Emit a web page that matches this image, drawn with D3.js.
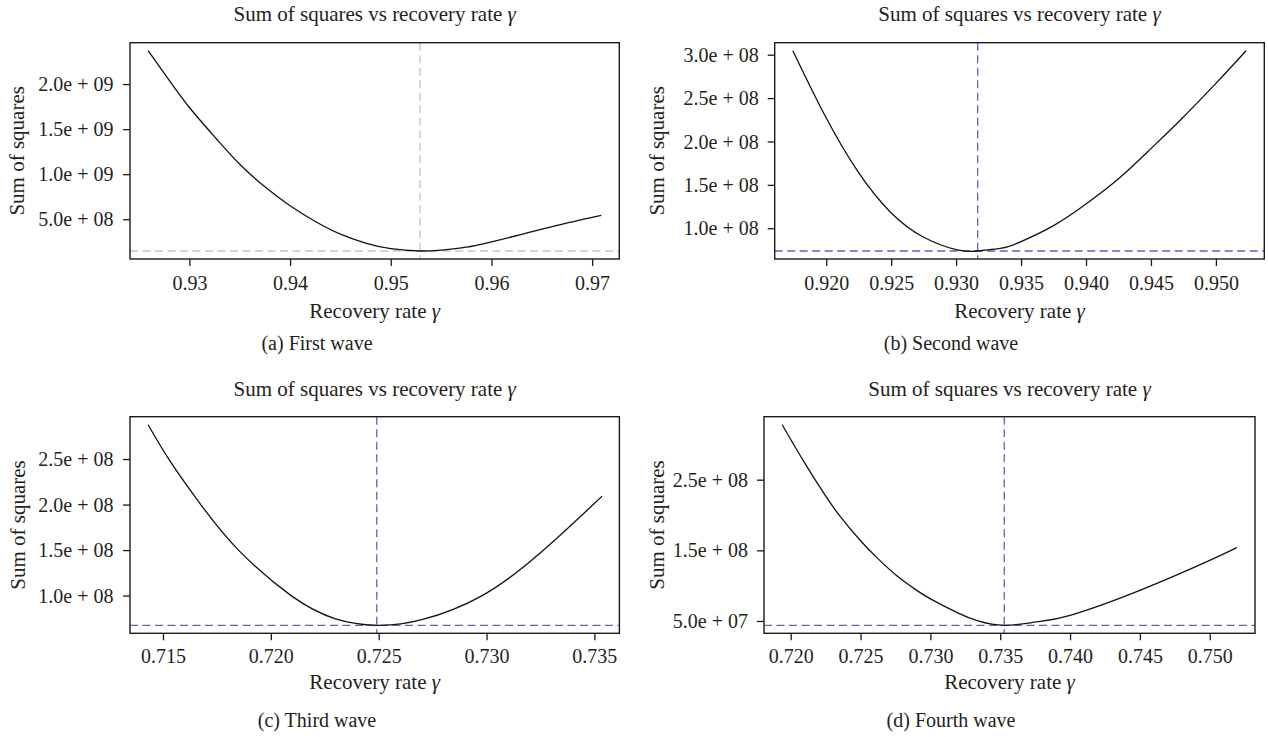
<!DOCTYPE html>
<html>
<head>
<meta charset="utf-8">
<script src="https://cdn.jsdelivr.net/npm/d3@7"></script>
<style>
  html, body { margin: 0; padding: 0; background: #ffffff; }
  svg { display: block; }
  text { font-family: "Liberation Serif", "Times New Roman", serif; fill: #231f20; }
</style>
</head>
<body>
<svg id="chart" width="1268" height="737"></svg>
<script>
// ---- Sum of squares profiles over the recovery rate, one per wave ----
const gammaFirst = [0.9259, 0.9280, 0.9300, 0.9327, 0.9350, 0.9375, 0.9400, 0.9426, 0.9450, 0.9475, 0.9500, 0.9529, 0.9550, 0.9575, 0.9600, 0.9631, 0.9664, 0.9709];
const ssFirst    = [2.370e9, 2.040e9, 1.740e9, 1.390e9, 1.110e9, 0.860e9, 0.650e9, 0.470e9, 0.335e9, 0.236e9, 0.174e9, 0.148e9, 0.158e9, 0.190e9, 0.250e9, 0.335e9, 0.430e9, 0.544e9];
const bestFirst  = [0.9529, 1.48e8];

const gammaSecond = [0.91743, 0.91982, 0.92238, 0.92495, 0.92751, 0.93008, 0.93166, 0.93350, 0.93500, 0.93750, 0.94000, 0.94250, 0.94500, 0.94725, 0.95000, 0.95233];
const ssSecond    = [3.046e8, 2.323e8, 1.667e8, 1.185e8, 0.896e8, 0.750e8, 0.738e8, 0.770e8, 0.846e8, 1.030e8, 1.280e8, 1.570e8, 1.918e8, 2.245e8, 2.669e8, 3.046e8];
const bestSecond  = [0.93166, 7.38e7];

const gammaThird = [0.71431, 0.71532, 0.71675, 0.71850, 0.72094, 0.72300, 0.72491, 0.72700, 0.72980, 0.73250, 0.73490, 0.73532];
const ssThird    = [2.877e8, 2.480e8, 2.000e8, 1.500e8, 1.000e8, 0.745e8, 0.674e8, 0.735e8, 1.000e8, 1.470e8, 1.990e8, 2.084e8];
const bestThird  = [0.72491, 6.74e7];

const gammaFourth = [0.71939, 0.72093, 0.72238, 0.72350, 0.72500, 0.72615, 0.72760, 0.72905, 0.73004, 0.73196, 0.73341, 0.73529, 0.73760, 0.74000, 0.74500, 0.75000, 0.75194];
const ssFourth    = [3.278e8, 2.760e8, 2.305e8, 1.990e8, 1.635e8, 1.400e8, 1.140e8, 0.930e8, 0.810e8, 0.615e8, 0.500e8, 0.439e8, 0.486e8, 0.580e8, 0.934e8, 1.358e8, 1.538e8];
const bestFourth  = [0.73529, 4.39e7];

// ---- Tick values ----
const xTicksFirst  = [0.93, 0.94, 0.95, 0.96, 0.97];
const yTicksFirst  = [5e8, 1.0e9, 1.5e9, 2.0e9];
const xTicksSecond = [0.920, 0.925, 0.930, 0.935, 0.940, 0.945, 0.950];
const yTicksSecond = [1.0e8, 1.5e8, 2.0e8, 2.5e8, 3.0e8];
const xTicksThird  = [0.715, 0.720, 0.725, 0.730, 0.735];
const yTicksThird  = [1.0e8, 1.5e8, 2.0e8, 2.5e8];
const xTicksFourth = [0.720, 0.725, 0.730, 0.735, 0.740, 0.745, 0.750];
const yTicksFourth = [5e7, 1.5e8, 2.5e8];

const captions = ["(a) First wave", "(b) Second wave", "(c) Third wave", "(d) Fourth wave"];

// ---- Panel layout (plot frames in pixels) ----
const panels = [
  { gamma: gammaFirst,  ss: ssFirst,  best: bestFirst,  xt: xTicksFirst,  yt: yTicksFirst,  xDec: 2,
    left: 130,   right: 619.3,  top: 42.7,  bottom: 259,   guide: "#c4c4c4",
    titleY: 21, tickY: 290, labelY: 318, capY: 350, capX: 317, ylabX: 24, ylabPad: 9.5 },
  { gamma: gammaSecond, ss: ssSecond, best: bestSecond, xt: xTicksSecond, yt: yTicksSecond, xDec: 3,
    left: 774.7, right: 1264.3, top: 42.7,  bottom: 259,   guide: "#5d63c4",
    titleY: 21, tickY: 290, labelY: 318, capY: 350, capX: 951, ylabX: 664, ylabPad: 9 },
  { gamma: gammaThird,  ss: ssThird,  best: bestThird,  xt: xTicksThird,  yt: yTicksThird,  xDec: 3,
    left: 130,   right: 619.4,  top: 416.7, bottom: 633.3, guide: "#5d63c4",
    titleY: 396, tickY: 663, labelY: 689, capY: 727, capX: 317, ylabX: 25, ylabPad: 9.5 },
  { gamma: gammaFourth, ss: ssFourth, best: bestFourth, xt: xTicksFourth, yt: yTicksFourth, xDec: 3,
    left: 764,   right: 1255,   top: 416.7, bottom: 633.3, guide: "#5d63c4",
    titleY: 396, tickY: 663, labelY: 689, capY: 727, capX: 951, ylabX: 664, ylabPad: 9 }
];

// "2.0e + 09" style labels
function sciLabel(v) {
  const e = Math.floor(Math.log10(v) + 1e-9);
  const m = v / Math.pow(10, e);
  return m.toFixed(1) + "e + " + String(e).padStart(2, "0");
}

// R-style axis range: data extent widened by 4% on each side
function padded(vals) {
  const [lo, hi] = d3.extent(vals);
  const p = (hi - lo) * 0.04;
  return [lo - p, hi + p];
}

const svg = d3.select("#chart");

panels.forEach((P, i) => {
  const x = d3.scaleLinear().domain(padded(P.gamma)).range([P.left, P.right]);
  const y = d3.scaleLinear().domain(padded(P.ss)).range([P.bottom, P.top]);
  const g = svg.append("g");
  const cx = (P.left + P.right) / 2;

  // guide lines through the minimum
  g.append("line")
    .attr("x1", P.left).attr("x2", P.right)
    .attr("y1", y(P.best[1])).attr("y2", y(P.best[1]))
    .attr("stroke", P.guide).attr("stroke-width", 1.3).attr("stroke-dasharray", "8,4.5");
  g.append("line")
    .attr("x1", x(P.best[0])).attr("x2", x(P.best[0]))
    .attr("y1", P.top).attr("y2", P.bottom)
    .attr("stroke", P.guide).attr("stroke-width", 1.3).attr("stroke-dasharray", "8,4.5");

  // profile curve
  const pts = P.gamma.map((gv, k) => [gv, P.ss[k]]);
  g.append("path")
    .datum(pts)
    .attr("fill", "none")
    .attr("stroke", "#111")
    .attr("stroke-width", 1.3)
    .attr("d", d3.line().x(d => x(d[0])).y(d => y(d[1])).curve(d3.curveNatural));

  // frame
  g.append("rect")
    .attr("x", P.left).attr("y", P.top)
    .attr("width", P.right - P.left).attr("height", P.bottom - P.top)
    .attr("fill", "none").attr("stroke", "#1a1a1a").attr("stroke-width", 1.4);

  // bottom axis
  const xa = g.append("g").attr("transform", `translate(0,${P.bottom})`)
    .call(d3.axisBottom(x).tickValues(P.xt).tickFormat(d => d.toFixed(P.xDec)).tickSize(7));
  xa.select(".domain").remove();
  xa.selectAll(".tick line").attr("stroke", "#1a1a1a").attr("stroke-width", 1.3);
  xa.selectAll(".tick text")
    .attr("y", P.tickY - P.bottom).attr("dy", null)
    .style("font-family", "Liberation Serif").style("font-size", "20px").attr("fill", "#231f20");

  // left axis
  const ya = g.append("g").attr("transform", `translate(${P.left},0)`)
    .call(d3.axisLeft(y).tickValues(P.yt).tickFormat(sciLabel).tickSize(7).tickPadding(P.ylabPad));
  ya.select(".domain").remove();
  ya.selectAll(".tick line").attr("stroke", "#1a1a1a").attr("stroke-width", 1.3);
  ya.selectAll(".tick text")
    .attr("dy", "0.33em")
    .style("font-family", "Liberation Serif").style("font-size", "20px").attr("fill", "#231f20");

  // title
  const t = g.append("text").attr("x", cx).attr("y", P.titleY)
    .attr("text-anchor", "middle").style("font-size", "21px");
  t.append("tspan").text("Sum of squares vs recovery rate ");
  t.append("tspan").attr("font-style", "italic").text("γ");

  // x label
  const xl = g.append("text").attr("x", cx).attr("y", P.labelY)
    .attr("text-anchor", "middle").style("font-size", "21px");
  xl.append("tspan").text("Recovery rate ");
  xl.append("tspan").attr("font-style", "italic").text("γ");

  // y label
  g.append("text")
    .attr("transform", `translate(${P.ylabX},${(P.top + P.bottom) / 2}) rotate(-90)`)
    .attr("text-anchor", "middle").style("font-size", "21px")
    .text("Sum of squares");

  // caption
  g.append("text").attr("x", P.capX).attr("y", P.capY)
    .attr("text-anchor", "middle").style("font-size", "20px")
    .text(captions[i]);
});
</script>
</body>
</html>
